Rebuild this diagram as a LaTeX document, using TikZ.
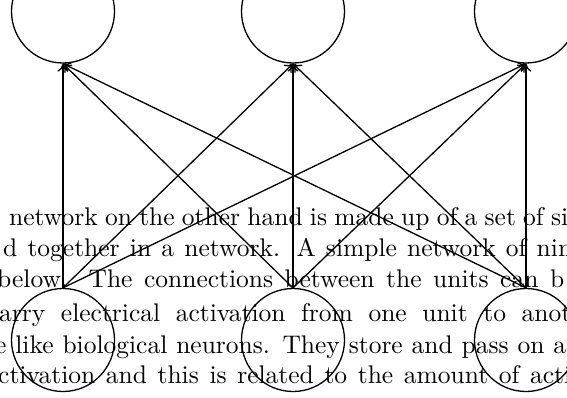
\documentclass[tikz,border=0pt]{standalone}
\usepackage{fontspec}
\newfontfamily\lmten{lmroman10-regular}[Extension=.otf]
\usetikzlibrary{arrows.meta}
\begin{document}
\begin{tikzpicture}[
    x=1pt, y=-1pt,
    unitbox/.style={
        draw=black, circle, line width=1.3pt,
        minimum size=103pt, inner sep=0pt
    },
    textline/.style={
        anchor=base west, inner sep=0pt,
        font=\lmten\fontsize{25.5}{31.5}\selectfont
    },
    arrowstyle/.style={
        -{To[length=8pt,width=11pt]}, line width=1.3pt, black
    }
]
\useasboundingbox (0,0) rectangle (567,397);
\clip (0,0) rectangle (567,397);

% Paragraph lines behind the network
\node[textline] (line1) at (9,225)   {\makebox[559pt][s]{network on the other hand is made up of a set of si}};
\node[textline] (line2) at (3,256)   {\makebox[569pt][s]{d together in a network. A simple network of nin}};
\node[textline] (line3) at (-3,287)  {\makebox[567pt][s]{below. The connections between the units can b}};
\node[textline] (line4) at (-1,321)  {\makebox[572pt][s]{arry electrical activation from one unit to anot}};
\node[textline] (line5) at (-5,353)  {\makebox[571pt][s]{e like biological neurons. They store and pass on a}};
\node[textline] (line6) at (-2,383)  {\makebox[573pt][s]{ctivation and this is related to the amount of acti}};

% Upper units
\node[unitbox] (out1) at ( 63,11.5) {};
\node[unitbox] (out2) at (293,11.5) {};
\node[unitbox] (out3) at (526,11.5) {};

% Lower units
\node[unitbox] (in1) at ( 63,340) {};
\node[unitbox] (in2) at (293,340) {};
\node[unitbox] (in3) at (526,340) {};

% Connections
\foreach \i in {1,2,3}{
    \foreach \o in {1,2,3}{
        \draw[arrowstyle] (in\i.north) -- (out\o.south);
    }
}

\end{tikzpicture}
\end{document}
